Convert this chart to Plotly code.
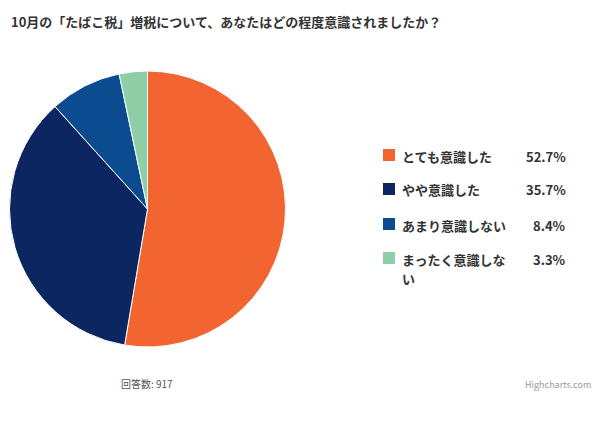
import plotly.graph_objects as go

categories = ["とても意識した", "やや意識した", "あまり意識しない", "まったく意識しない"]
legend_line1 = ["とても意識した", "やや意識した", "あまり意識しない", "まったく意識しな"]
legend_line2 = ["", "", "", "い"]
values = [52.7, 35.7, 8.4, 3.3]
colors = ["#F26531", "#0B2660", "#0B4B8F", "#8ECFA8"]
title_text = "10月の「たばこ税」増税について、あなたはどの程度意識されましたか？"
footer_text = "回答数: 917"
credit_text = "Highcharts.com"

W, H = 600, 421
FONT = "Noto Sans CJK JP, sans-serif"

fig = go.Figure()
fig.add_trace(go.Pie(
    labels=categories, values=values, sort=False, direction="clockwise",
    rotation=0, textinfo="none", hoverinfo="label+percent",
    marker=dict(colors=colors, line=dict(color="#ffffff", width=1)),
    domain=dict(x=[9 / W, 286 / W], y=[1 - 347 / H, 1 - 71 / H]),
    showlegend=False,
))

def py(y):
    return 1 - y / H

shapes = []
annotations = []
row_y = [156, 190, 225, 259]
for i, (l1, l2, val, col) in enumerate(zip(legend_line1, legend_line2, values, colors)):
    y = row_y[i]
    shapes.append(dict(type="rect", xref="paper", yref="paper",
                       x0=383 / W, x1=395 / W, y0=py(y + 5), y1=py(y - 7),
                       fillcolor=col, line=dict(width=0)))
    annotations.append(dict(text="<b>%s</b>" % l1, x=400 / W, y=py(y),
                            xref="paper", yref="paper", xanchor="left", yanchor="middle",
                            showarrow=False,
                            font=dict(family=FONT, size=13, color="#333333")))
    if l2:
        annotations.append(dict(text="<b>%s</b>" % l2, x=400 / W, y=py(y + 19),
                                xref="paper", yref="paper", xanchor="left", yanchor="middle",
                                showarrow=False,
                                font=dict(family=FONT, size=13, color="#333333")))
    annotations.append(dict(text="<b>%.1f%%</b>" % val, x=568 / W, y=py(y),
                            xref="paper", yref="paper", xanchor="right", yanchor="middle",
                            showarrow=False,
                            font=dict(family=FONT, size=13, color="#333333")))

annotations.append(dict(text="<b>%s</b>" % title_text, x=9 / W, y=py(22),
                        xref="paper", yref="paper", xanchor="left", yanchor="middle",
                        showarrow=False, font=dict(family=FONT, size=13, color="#333333")))
annotations.append(dict(text=footer_text, x=119 / W, y=py(383),
                        xref="paper", yref="paper", xanchor="left", yanchor="middle",
                        showarrow=False, font=dict(family=FONT, size=10, color="#555555")))
annotations.append(dict(text=credit_text, x=593 / W, y=py(384),
                        xref="paper", yref="paper", xanchor="right", yanchor="middle",
                        showarrow=False, font=dict(family=FONT, size=9, color="#999999")))

fig.update_layout(
    width=W, height=H, margin=dict(l=0, r=0, t=0, b=0),
    paper_bgcolor="#ffffff", plot_bgcolor="#ffffff",
    shapes=shapes, annotations=annotations,
)
fig.write_html("out.html")
